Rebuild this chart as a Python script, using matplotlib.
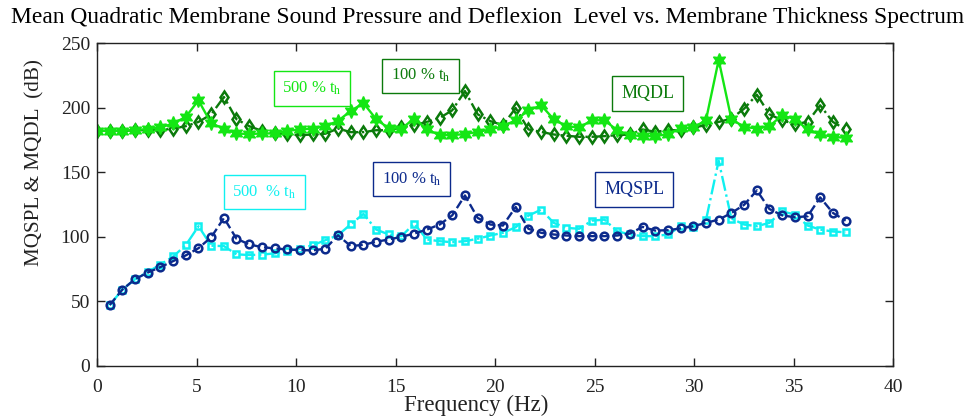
import matplotlib
matplotlib.use("Agg")
import matplotlib.pyplot as plt

plt.rcParams['font.family'] = ['Liberation Serif', 'DejaVu Serif']
plt.rcParams['mathtext.fontset'] = 'stix'

# frequency axis (Hz)
freq = [0.00, 0.64, 1.28, 1.91, 2.55, 3.19, 3.83, 4.46, 5.10, 5.74,
        6.38, 7.01, 7.65, 8.29, 8.93, 9.56, 10.20, 10.84, 11.48, 12.11,
        12.75, 13.39, 14.03, 14.66, 15.30, 15.94, 16.58, 17.22, 17.85, 18.49,
        19.13, 19.77, 20.40, 21.04, 21.68, 22.32, 22.95, 23.59, 24.23, 24.87,
        25.50, 26.14, 26.78, 27.42, 28.05, 28.69, 29.33, 29.97, 30.60, 31.24,
        31.88, 32.52, 33.16, 33.79, 34.43, 35.07, 35.71, 36.34, 36.98, 37.62]

mqdl_500 = [182, 182, 182, 182.5, 183.5, 184.6, 187.7, 192.8, 205.6, 187.7,
            183.8, 180, 179.5, 180, 180, 182, 183.1, 183.8, 185.6, 189.7,
            197.4, 203.5, 191, 184, 183.8, 191.5, 183.1, 178.7, 178.7, 179.5,
            181.2, 183.1, 185.6, 190.2, 197.9, 201.8, 191, 185.6, 184.6, 190.2,
            190.2, 182.5, 178.7, 177.9, 177.9, 179.5, 184, 184.6, 190.2, 236.9,
            191, 185.1, 183.8, 185.6, 194.1, 191, 183.1, 179.2, 177.4, 176.6]

mqdl_100 = [182, 182, 182, 182.5, 182.5, 182.5, 183.8, 185.6, 188.9, 194.8,
            208.2, 191, 185.6, 182, 180.5, 179.2, 178.7, 179.2, 179.8, 183.8,
            181, 181, 182.5, 182.5, 184.6, 186.4, 188.9, 192, 197.9, 212.8,
            194.8, 189.5, 186.4, 199.7, 183.1, 181.2, 179.2, 178.2, 177.4, 177.4,
            177.9, 178.7, 179.2, 183.1, 181.2, 182.5, 182.5, 184.6, 186.4, 188.9,
            191.5, 199.2, 210, 194.8, 190.2, 187.2, 188.9, 201.8, 188.9, 183.1]

# MQSPL is undefined at 0 Hz, so these start at the second frequency
mqspl_100 = [47.2, 59.2, 67.2, 72.3, 76.6, 81.2, 85.6, 91.2, 99.7, 114.6,
             98.5, 94.1, 92.0, 91.0, 90.2, 89.7, 89.5, 90.8, 101.2, 92.8,
             93.8, 96.2, 97.9, 100, 102.5, 105.6, 109.5, 116.6, 132.0, 114.6,
             109.5, 108.7, 123.1, 106.2, 103.1, 101.8, 101, 100.5, 100.5, 100.5,
             101, 102.5, 107.7, 104.8, 105.1, 106.5, 108.2, 110.8, 113.3, 118.4,
             124.8, 135.9, 121.5, 116.6, 115.1, 115.9, 130.5, 118.5, 112.5]

mqspl_500 = [47.2, 59.2, 67.2, 72.8, 78.5, 84.8, 93.5, 108.2, 93.1, 92.8,
             86.4, 85.9, 86.2, 87.2, 89.2, 90.8, 93.5, 97.4, 101.2, 109.7,
             117.7, 105.6, 101.8, 100.5, 110.2, 97.9, 96.6, 95.8, 96.6, 98.5,
             101, 103.1, 107.4, 116.4, 121, 110.8, 106.9, 106.2, 112.5, 113.3,
             104.3, 101.8, 100.5, 100.5, 101.8, 108, 107.4, 112.8, 158.9, 114.1,
             109.5, 108.2, 110.8, 119.7, 117.2, 108.7, 105.6, 104.1, 103.5]

c_green = '#14e614'
c_dgreen = '#0b7a0b'
c_navy = '#0c2a8c'
c_cyan = '#10f0f0'

fig = plt.figure(figsize=(9.77, 4.17), dpi=100)
ax = fig.add_axes([97 / 977, 1 - 366 / 417, 796 / 977, 323 / 417])

ax.plot(freq[1:], mqspl_500, color=c_cyan, ls='-.', lw=1.7, marker='s', ms=5,
        mfc='none', mew=1.8)
ax.plot(freq[1:], mqspl_100, color=c_navy, ls='--', lw=1.7, marker='o', ms=5.5,
        mfc='none', mew=1.8)
ax.plot(freq, mqdl_100, color=c_dgreen, ls='-.', lw=1.7, marker='d', ms=6,
        mfc='none', mew=1.8)
ax.plot(freq, mqdl_500, color=c_green, ls='-', lw=1.7, marker=(6, 1, 0), ms=10,
        mfc=c_green, mec=c_green)

ax.set_xlim(0, 40)
ax.set_ylim(0, 250)
ax.set_xticks(range(0, 41, 5))
ax.set_yticks(range(0, 251, 50))
ax.tick_params(direction='in', top=True, right=True, length=6, width=1,
               labelsize=14, colors='#222222')
ax.tick_params(axis='x', pad=9)
ax.tick_params(axis='y', pad=5)
for s in ax.spines.values():
    s.set_linewidth(1)
    s.set_color('#222222')

# boxed labels
boxes = [
    (10.8, 214.8, '500 % t$_{\\rm h}$', c_green, 12),
    (16.26, 224.8, '100 % t$_{\\rm h}$', c_dgreen, 12),
    (27.67, 211, 'MQDL', c_dgreen, 13),
    (8.41, 134.8, '500  % t$_{\\rm h}$', c_cyan, 12),
    (15.81, 144.5, '100 % t$_{\\rm h}$', c_navy, 12),
    (26.99, 136.4, 'MQSPL', c_navy, 13),
]
for x, y, s, c, fs in boxes:
    ax.text(x, y, s, color=c, fontsize=fs, ha='center', va='center',
            bbox=dict(boxstyle='square,pad=0.5', fc='white', ec=c, lw=1))

fig.text(488 / 977, 1 - 17 / 417,
         'Mean Quadratic Membrane Sound Pressure and Deflexion  Level vs. Membrane Thickness Spectrum',
         ha='center', va='center', fontsize=16.9)
fig.text(476 / 977, 1 - 405 / 417, 'Frequency (Hz)', ha='center', va='center',
         fontsize=16.5, color='#222222')
fig.text(35 / 977, 1 - 163 / 417, 'MQSPL & MQDL  (dB)', ha='center', va='center',
         rotation=90, fontsize=15.2, color='#222222')

fig.savefig('out.png', dpi=100)
